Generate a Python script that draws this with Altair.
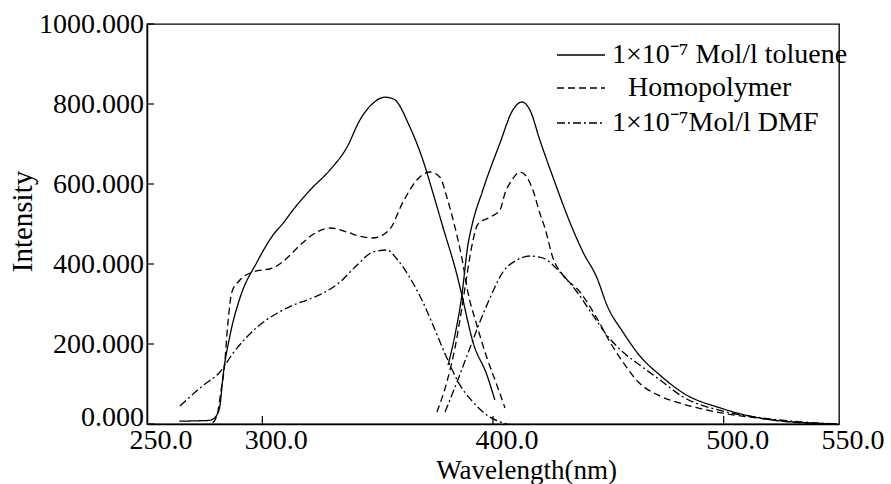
import altair as alt
import pandas as pd

# ---- data ----
tol_ex_x = [264, 272, 277, 278.5, 280.5, 281.6, 283, 286, 290.3, 297.7, 304.6, 309, 313.3, 320.7, 329.3,
            336.7, 342.3, 348, 353, 357, 364, 369.6, 374, 378.3, 384.4, 386.5, 391.3, 397.4, 400.8]
tol_ex_y = [7, 8, 9, 12, 25, 45, 122, 222, 315, 405, 472, 502, 535, 585, 635,
            692, 760, 802, 817, 812, 742, 660, 577, 492, 372, 322, 205, 122, 60]

tol_em_x = [380.5, 383.5, 386.5, 389.1, 390.9, 395.6, 403, 408.6, 412.5, 416, 420.3, 426, 434.2, 439,
            445.1, 449.4, 456.3, 463.7, 472.4, 482.3, 499.7, 521.3, 549]
tol_em_y = [147, 222, 322, 447, 497, 585, 702, 785, 805, 785, 710, 617, 492, 430,
            365, 297, 230, 170, 122, 78, 38, 10, 0]

homo_ex_x = [278.5, 280.5, 282, 283.5, 285, 286.8, 290.3, 295.9, 304.6, 310.7, 316.3, 323.7, 329.3,
             336.7, 342, 348, 355, 361, 367, 372.7, 377, 380, 383.5, 386.5, 389.1, 393, 397.4, 401.7, 405.2]
homo_ex_y = [3, 25, 80, 140, 247, 330, 360, 380, 390, 415, 447, 480, 490,
             480, 470, 465, 485, 555, 610, 630, 617, 567, 492, 415, 330, 247, 165, 97, 40]

homo_em_x = [375.7, 380, 383.5, 386.5, 388.7, 390.9, 393.5, 398.7, 403, 405.2, 408.2, 411.7, 414.7,
             417.3, 420.3, 422.5, 426, 430.3, 437.7, 445, 450.7, 456.3, 463, 472.4, 482.3, 499.7, 514.4,
             528.7, 549]
homo_em_y = [30, 105, 190, 290, 372, 447, 500, 517, 535, 577, 610, 630, 617,
             585, 527, 490, 415, 372, 330, 265, 205, 155, 105, 70, 50, 27, 15,
             5, 0]

dmf_ex_x = [264.3, 274, 281.6, 287.3, 297.7, 306.4, 313.3, 319.4, 326.3, 333.7, 341, 348, 354,
            358.4, 364, 369.6, 374, 380, 385.7, 391.3, 397.4, 406]
dmf_ex_y = [45, 95, 130, 177, 242, 277, 297, 310, 327, 355, 397, 430, 435,
            412, 365, 305, 247, 165, 97, 55, 22, 0]

dmf_em_x = [379.2, 384.4, 390, 394.3, 398.7, 404.3, 410.4, 416, 421.6, 429, 436.4, 443.3, 449.4,
            456.3, 463.7, 472.4, 482.3, 499.7, 517, 549]
dmf_em_y = [30, 105, 190, 255, 315, 380, 410, 420, 415, 380, 330, 272, 222,
            180, 147, 110, 68, 32, 15, 0]

series_names = ["1×10⁻⁷ Mol/l toluene", "Homopolymer", "1×10⁻⁷Mol/l DMF"]
x_ticks = [250, 300, 400, 500, 550]
x_tick_labels = ["250.0", "300.0", "400.0", "500.0", "550.0"]
y_ticks = [0, 200, 400, 600, 800, 1000]
y_tick_labels = ["0.000", "200.000", "400.000", "600.000", "800.000", "1000.000"]
inner_x_ticks = [300, 400, 500]

rows = []
def add(xs, ys, s, seg):
    for a, b in zip(xs, ys):
        rows.append({"wl": a, "val": b, "series": s, "seg": seg})

add(tol_ex_x, tol_ex_y, series_names[0], "tol_ex")
add(tol_em_x, tol_em_y, series_names[0], "tol_em")
add(homo_ex_x, homo_ex_y, series_names[1], "homo_ex")
add(homo_em_x, homo_em_y, series_names[1], "homo_em")
add(dmf_ex_x, dmf_ex_y, series_names[2], "dmf_ex")
add(dmf_em_x, dmf_em_y, series_names[2], "dmf_em")
df = pd.DataFrame(rows)

W, H = 692, 400
FONT = "Liberation Serif"
dashes = [[1, 0], [7, 4], [8, 3, 2, 3]]

xscale = alt.Scale(domain=[250, 550], nice=False, zero=False)
yscale = alt.Scale(domain=[0, 1000], nice=False)

xaxis = alt.Axis(values=x_ticks, labels=False, title="Wavelength(nm)", ticks=False, tickSize=0,
                 grid=False, domainColor="black", domainWidth=1.5,
                 titleFont=FONT, titleFontSize=27, titleFontWeight="normal", titleColor="black",
                 titleX=379, titleY=46, titleBaseline="middle")
yaxis = alt.Axis(values=y_ticks, labels=False, title="Intensity", ticks=False, tickSize=0,
                 grid=False, domainColor="black", domainWidth=1.5,
                 titleFont=FONT, titleFontSize=29, titleFontWeight="normal", titleColor="black",
                 titleX=-125, titleY=197, titleBaseline="middle")

X = lambda f: alt.X(f, scale=xscale, axis=xaxis, title="Wavelength(nm)")
Y = lambda f: alt.Y(f, scale=yscale, axis=yaxis, title="Intensity")

lines = alt.Chart(df).mark_line(color="black", strokeWidth=1.3, interpolate="monotone").encode(
    x=X("wl:Q"),
    y=Y("val:Q"),
    strokeDash=alt.StrokeDash("series:N", scale=alt.Scale(domain=series_names, range=dashes), legend=None),
    detail="seg:N",
)

xlabel_layer = alt.Chart(pd.DataFrame({"wl": x_ticks, "lab": x_tick_labels})).mark_text(
    font=FONT, fontSize=28, align="center", baseline="middle", color="black", dx=14).encode(
    x=X("wl:Q"), y=alt.value(H + 17), text="lab:N")

ylab_df = pd.DataFrame({"val": y_ticks, "lab": y_tick_labels})
ylabel_zero = alt.Chart(ylab_df.iloc[:1]).mark_text(
    font=FONT, fontSize=28, align="right", baseline="middle", color="black", dy=-6).encode(
    y=Y("val:Q"), x=alt.value(-3), text="lab:N")
ylabel_rest = alt.Chart(ylab_df.iloc[1:]).mark_text(
    font=FONT, fontSize=28, align="right", baseline="middle", color="black", dy=1).encode(
    y=Y("val:Q"), x=alt.value(-3), text="lab:N")

ytick_layer = alt.Chart(pd.DataFrame({"val": y_ticks})).mark_rule(color="black", strokeWidth=1.2).encode(
    y=Y("val:Q"), x=alt.value(0), x2=alt.value(7))
xtick_layer = alt.Chart(pd.DataFrame({"wl": inner_x_ticks})).mark_rule(color="black", strokeWidth=1.2).encode(
    x=X("wl:Q"), y=alt.value(H), y2=alt.value(H - 8))

leg_rows = [31, 64, 99]
leg_text_x = [465, 481, 465]
legend_layers = []
for i, name in enumerate(series_names):
    legend_layers.append(
        alt.Chart(pd.DataFrame({"s": [name]})).mark_rule(color="black", strokeWidth=1.3, strokeDash=dashes[i]).encode(
            x=alt.value(410), x2=alt.value(458), y=alt.value(leg_rows[i])))
    legend_layers.append(
        alt.Chart(pd.DataFrame({"s": [name]})).mark_text(font=FONT, fontSize=28, align="left", baseline="middle",
                                                         color="black").encode(
            text="s:N", x=alt.value(leg_text_x[i]), y=alt.value(leg_rows[i])))

chart = alt.layer(lines, xlabel_layer, ylabel_zero, ylabel_rest, ytick_layer, xtick_layer,
                  *legend_layers).properties(
    width=W, height=H,
    autosize=alt.AutoSizeParams(type="none"),
    padding={"left": 147, "top": 24, "right": 52, "bottom": 60},
    background="white",
).configure_view(stroke="black", strokeWidth=1.3)

chart.save("out.html", embed_options={"renderer": "svg", "actions": False})
